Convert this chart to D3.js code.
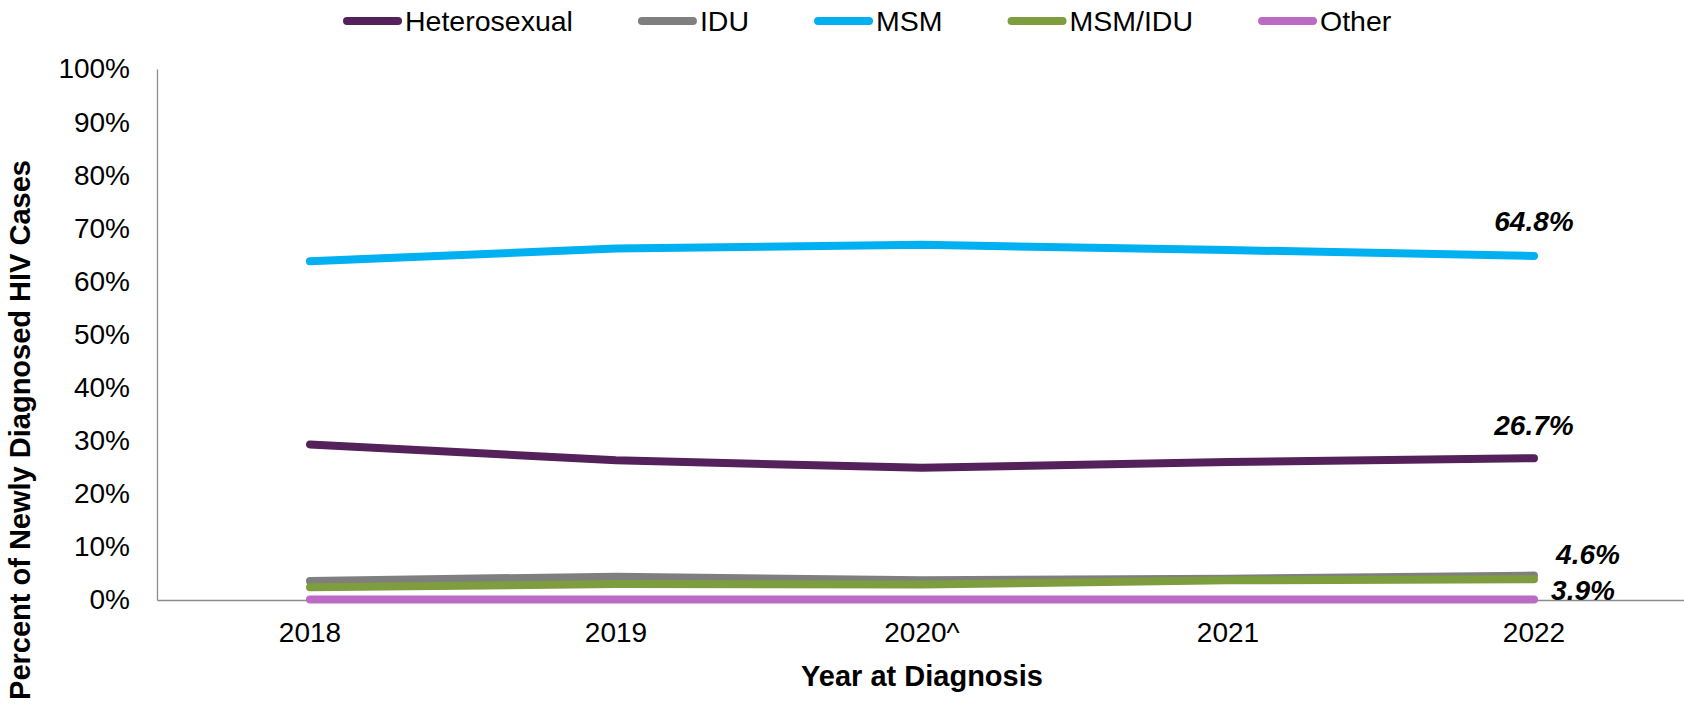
<!DOCTYPE html>
<html>
<head>
<meta charset="utf-8">
<script src="https://cdn.jsdelivr.net/npm/d3@7"></script>
<style>
  body { margin: 0; background: #fff; }
  text { font-family: "Liberation Sans", Arial, sans-serif; }
</style>
</head>
<body>
<script>
// chart data
var years = ["2018", "2019", "2020^", "2021", "2022"];
var seriesNames = ["Heterosexual", "IDU", "MSM", "MSM/IDU", "Other"];
var heterosexual = [29.3, 26.3, 24.9, 26.0, 26.7];
var idu = [3.6, 4.4, 3.7, 4.0, 4.6];
var msm = [63.8, 66.2, 66.9, 65.9, 64.8];
var msmIdu = [2.4, 3.0, 2.9, 3.7, 3.9];
var other = [0.1, 0.1, 0.1, 0.1, 0.1];
var yTicks = [0, 10, 20, 30, 40, 50, 60, 70, 80, 90, 100];

var colors = ["#55215a", "#7f7f7f", "#00b0f0", "#7e9d3e", "#bb6bc3"];
var values = [heterosexual, idu, msm, msmIdu, other];

var W = 1684, H = 708;
var margin = {top: 69, right: -3, bottom: 108, left: 157};

var svg = d3.select("body").append("svg")
    .attr("width", W)
    .attr("height", H);

var x = d3.scaleBand()
    .domain(years)
    .range([margin.left, W - margin.right]);
var y = d3.scaleLinear()
    .domain([0, 100])
    .range([H - margin.bottom, margin.top]);

// y axis
var yAxis = svg.append("g")
    .attr("transform", "translate(" + margin.left + ",0)")
    .call(d3.axisLeft(y).tickValues(yTicks).tickSize(0).tickPadding(27)
        .tickFormat(function(d) { return d + "%"; }));
yAxis.select(".domain").attr("stroke", "#8c8c8c").attr("stroke-width", 1.3);
yAxis.selectAll("text").style("font-size", "28px").attr("fill", "#000");

// x axis
var xAxis = svg.append("g")
    .attr("transform", "translate(0," + y(0) + ")")
    .call(d3.axisBottom(x).tickSize(0).tickPadding(22));
xAxis.select(".domain").attr("stroke", "#8c8c8c").attr("stroke-width", 1.3);
xAxis.selectAll("text").style("font-size", "28px").attr("fill", "#000");

// lines
var line = d3.line()
    .x(function(d, i) { return x(years[i]) + x.bandwidth() / 2; })
    .y(function(d) { return y(d); });

var drawOrder = [4, 0, 2, 1, 3];
drawOrder.forEach(function(s) {
  svg.append("path")
      .datum(values[s])
      .attr("fill", "none")
      .attr("stroke", colors[s])
      .attr("stroke-width", 8)
      .attr("stroke-linecap", "round")
      .attr("stroke-linejoin", "round")
      .attr("d", line);
});

// end labels
var last = years.length - 1;
var xLast = x(years[last]) + x.bandwidth() / 2;
var endLabels = [
  {v: msm[last], dx: 0, dy: -35},
  {v: heterosexual[last], dx: 0, dy: -33},
  {v: idu[last], dx: 54, dy: -21},
  {v: msmIdu[last], dx: 49, dy: 11}
];
endLabels.forEach(function(l) {
  svg.append("text")
      .attr("x", xLast + l.dx)
      .attr("y", y(l.v) + l.dy)
      .attr("dy", "0.35em")
      .attr("text-anchor", "middle")
      .style("font-size", "28px")
      .style("font-weight", "bold")
      .style("font-style", "italic")
      .text(l.v.toFixed(1) + "%");
});

// legend
var lx = 343;
seriesNames.forEach(function(name, i) {
  var g = svg.append("g").attr("transform", "translate(" + lx + ",21)");
  g.append("line")
      .attr("x1", 4).attr("x2", 55)
      .attr("stroke", colors[i])
      .attr("stroke-width", 8)
      .attr("stroke-linecap", "round");
  var t = g.append("text")
      .attr("x", 62)
      .attr("dy", "0.35em")
      .style("font-size", "28.5px")
      .text(name);
  lx += 62 + t.node().getComputedTextLength() + 65;
});

// axis titles
svg.append("text")
    .attr("x", (margin.left + W - margin.right) / 2)
    .attr("y", 676)
    .attr("dy", "0.35em")
    .attr("text-anchor", "middle")
    .style("font-size", "29px")
    .style("font-weight", "bold")
    .text("Year at Diagnosis");

svg.append("text")
    .attr("transform", "translate(20,430) rotate(-90)")
    .attr("dy", "0.35em")
    .attr("text-anchor", "middle")
    .style("font-size", "29px")
    .style("font-weight", "bold")
    .text("Percent of Newly Diagnosed HIV Cases");
</script>
</body>
</html>
